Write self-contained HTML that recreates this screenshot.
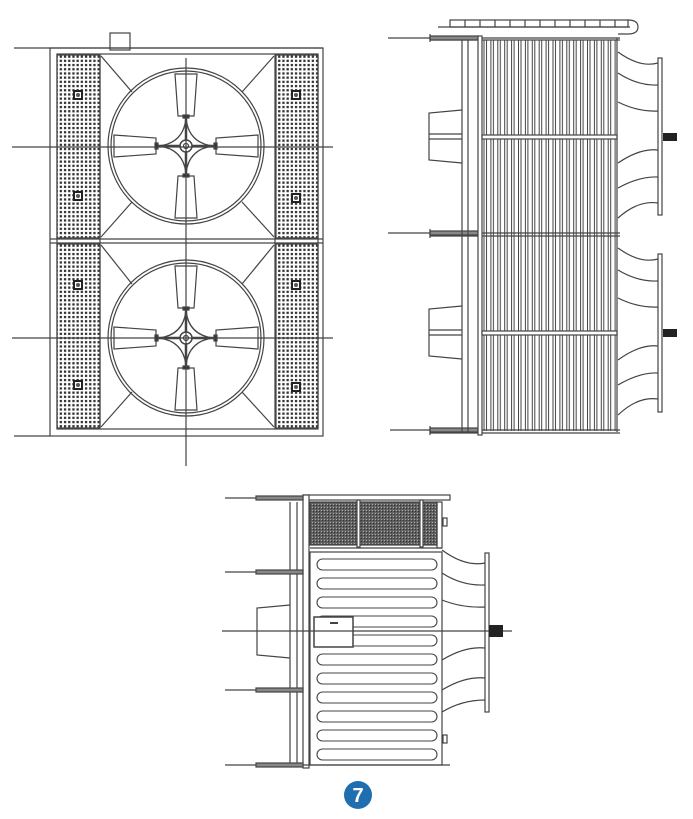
<!DOCTYPE html>
<html><head><meta charset="utf-8"><style>
html,body{margin:0;padding:0;background:#fff;}
svg{display:block}
</style></head><body>
<svg width="693" height="819" viewBox="0 0 693 819" xmlns="http://www.w3.org/2000/svg">
<defs>
<pattern id="dots" x="0" y="0" width="4.2" height="4.2" patternUnits="userSpaceOnUse">
<rect x="0.9" y="0.9" width="2.3" height="2.3" fill="#333"/>
</pattern>
<pattern id="mesh" x="0" y="0" width="3" height="3" patternUnits="userSpaceOnUse">
<rect width="3" height="3" fill="#666"/><rect x="0.8" y="0.8" width="1.4" height="1.4" fill="#333"/>
<rect x="0" y="0" width="1" height="1" fill="#aaa"/>
</pattern>
<pattern id="slats" x="483" y="0" width="6.9" height="10" patternUnits="userSpaceOnUse">
<line x1="1" y1="0" x2="1" y2="10" stroke="#444" stroke-width="1"/>
<line x1="3.5" y1="0" x2="3.5" y2="10" stroke="#444" stroke-width="1"/>
</pattern>
<g id="fan" fill="none" stroke="#444" stroke-width="1.2">
<circle r="78"/><circle r="75"/>
<g id="bl"><polygon points="-11,-72 11,-72 8,-30 -8,-30" fill="#fff"/><rect x="-3" y="-31" width="6" height="3" fill="#333"/></g>
<use href="#bl" transform="rotate(90)"/><use href="#bl" transform="rotate(180)"/><use href="#bl" transform="rotate(270)"/>
<path d="M0,-27 Q3,-3 27,0 Q3,3 0,27 Q-3,3 -27,0 Q-3,-3 0,-27Z" fill="#fff" stroke-width="1.3"/>
<line x1="-28" y1="0" x2="28" y2="0" stroke-width="2.5"/><line x1="0" y1="-28" x2="0" y2="28" stroke-width="2.5"/>
<circle r="6" fill="#fff" stroke-width="1.5"/><circle r="2.5"/>
</g>
<g id="sq"><rect x="-5" y="-5" width="10" height="10" fill="#222"/><rect x="-3" y="-3" width="6" height="6" fill="#fff"/><circle r="2" fill="#555"/></g>
</defs>

<g fill="none" stroke="#444" stroke-width="1.2">
<rect x="110" y="33" width="20" height="17" fill="#fff"/>
<line x1="14" y1="48" x2="323" y2="48"/>
<rect x="50" y="48" width="273" height="388"/>
<rect x="57" y="54" width="261" height="375"/>
<line x1="50" y1="239" x2="323" y2="239"/><line x1="50" y1="243" x2="323" y2="243"/>
<line x1="14" y1="436" x2="50" y2="436"/>
<rect x="57" y="55" width="43" height="183" fill="url(#dots)"/>
<rect x="57" y="244" width="43" height="184" fill="url(#dots)"/>
<rect x="276" y="55" width="42" height="183" fill="url(#dots)"/>
<rect x="276" y="244" width="42" height="184" fill="url(#dots)"/>
<line x1="100" y1="54" x2="100" y2="429"/><line x1="275" y1="54" x2="275" y2="429"/>
<line x1="101" y1="56" x2="132" y2="92"/><line x1="274" y1="56" x2="242" y2="92"/>
<line x1="101" y1="237" x2="132" y2="202"/><line x1="274" y1="237" x2="242" y2="202"/>
<line x1="101" y1="245" x2="132" y2="284"/><line x1="274" y1="245" x2="242" y2="284"/>
<line x1="101" y1="427" x2="132" y2="392"/><line x1="274" y1="427" x2="242" y2="392"/>
<use href="#fan" x="186" y="146"/>
<use href="#fan" x="186" y="338"/>
<line x1="186" y1="58" x2="186" y2="466"/>
<line x1="12" y1="147" x2="333" y2="147"/>
<line x1="12" y1="338" x2="333" y2="338"/>
</g>
<use href="#sq" x="78" y="95"/><use href="#sq" x="78" y="196"/><use href="#sq" x="296" y="95"/><use href="#sq" x="296" y="198"/>
<use href="#sq" x="78" y="285"/><use href="#sq" x="78" y="385"/><use href="#sq" x="296" y="285"/><use href="#sq" x="296" y="387"/>

<g fill="none" stroke="#444" stroke-width="1.2">
<line x1="438" y1="27" x2="630" y2="27"/>
<rect x="450" y="20" width="178" height="7"/>
<line x1="465" y1="20" x2="465" y2="27"/><line x1="480" y1="20" x2="480" y2="27"/><line x1="495" y1="20" x2="495" y2="27"/><line x1="510" y1="20" x2="510" y2="27"/><line x1="525" y1="20" x2="525" y2="27"/><line x1="540" y1="20" x2="540" y2="27"/><line x1="555" y1="20" x2="555" y2="27"/><line x1="570" y1="20" x2="570" y2="27"/><line x1="585" y1="20" x2="585" y2="27"/><line x1="600" y1="20" x2="600" y2="27"/><line x1="615" y1="20" x2="615" y2="27"/>
<path d="M628,20 Q638,20 638,27 Q638,34 628,34 L618,34"/>
<rect x="483" y="40" width="134" height="391" fill="url(#slats)" stroke="none"/>
<line x1="388" y1="38" x2="620" y2="38"/><line x1="430" y1="40" x2="620" y2="40"/>
<line x1="388" y1="233" x2="620" y2="233"/><line x1="430" y1="236" x2="620" y2="236"/>
<line x1="390" y1="430" x2="620" y2="430"/><line x1="430" y1="433" x2="620" y2="433"/>
<rect x="430" y="36" width="48" height="4" fill="#888"/><rect x="430" y="231" width="48" height="4" fill="#888"/><rect x="430" y="428" width="48" height="4" fill="#888"/>
<line x1="430" y1="34" x2="430" y2="42"/><line x1="430" y1="229" x2="430" y2="238"/><line x1="430" y1="426" x2="430" y2="435"/>
<rect x="478" y="36" width="4" height="399" fill="#fff"/>
<line x1="462" y1="40" x2="462" y2="432"/><line x1="468" y1="40" x2="468" y2="432"/>
<line x1="617" y1="38" x2="617" y2="432"/>
<rect x="482" y="135" width="135" height="4" fill="#fff"/><rect x="482" y="331" width="135" height="4" fill="#fff"/>
<path d="M462,110 L429,113 L429,160 L462,163"/><line x1="429" y1="134" x2="462" y2="134"/><line x1="429" y1="139" x2="462" y2="139"/>
<path d="M462,306 L429,309 L429,356 L462,359"/><line x1="429" y1="330" x2="462" y2="330"/><line x1="429" y1="335" x2="462" y2="335"/>
<rect x="658" y="58" width="4" height="157" fill="#fff"/>
<rect x="658" y="254" width="4" height="158" fill="#fff"/>
<path d="M618,52 Q640,68 658,63 M618,73 Q638,86 658,85 M618,102 Q638,112 658,111 M618,163 Q640,148 658,150 M618,188 Q640,176 658,177 M618,218 Q638,200 658,203"/>
<path d="M618,248 Q640,264 658,259 M618,270 Q638,282 658,281 M618,298 Q638,308 658,307 M618,360 Q640,344 658,346 M618,385 Q640,372 658,373 M618,415 Q638,396 658,399"/>
</g>
<rect x="663" y="133" width="14" height="8" fill="#222"/>
<rect x="663" y="329" width="14" height="8" fill="#222"/>

<g fill="none" stroke="#444" stroke-width="1.2">
<line x1="225" y1="498" x2="450" y2="498"/>
<rect x="303" y="495" width="147" height="5" fill="#fff"/>
<rect x="310" y="502" width="127" height="43" fill="url(#mesh)"/>
<rect x="357" y="500" width="3" height="47" fill="#fff"/><rect x="420" y="500" width="3" height="47" fill="#fff"/>
<rect x="437" y="502" width="5" height="46"/>
<rect x="443" y="518" width="4" height="8" fill="#fff"/>
<line x1="310" y1="548" x2="442" y2="548"/>
<rect x="310" y="552" width="132" height="213"/>
<rect x="443" y="735" width="4" height="8" fill="#fff"/>
<line x1="290" y1="502" x2="290" y2="766"/><line x1="297" y1="502" x2="297" y2="766"/>
<rect x="303" y="495" width="6" height="273" fill="#fff"/>
<line x1="225" y1="572" x2="303" y2="572"/><line x1="225" y1="690" x2="303" y2="690"/>
<line x1="225" y1="765" x2="450" y2="765"/>
<rect x="256" y="570" width="47" height="4" fill="#888"/><rect x="256" y="688" width="47" height="4" fill="#888"/><rect x="256" y="763" width="47" height="4" fill="#888"/><rect x="256" y="496" width="47" height="4" fill="#888"/>
<path d="M290,605 L257,608 L257,655 L290,658"/>
<g stroke-width="1.1">
<rect x="317" y="559" width="120" height="11" rx="5.5"/>
<rect x="317" y="578" width="120" height="11" rx="5.5"/>
<rect x="317" y="597" width="120" height="11" rx="5.5"/>
<rect x="317" y="616" width="120" height="11" rx="5.5"/>
<rect x="317" y="635" width="120" height="11" rx="5.5"/>
<rect x="317" y="654" width="120" height="11" rx="5.5"/>
<rect x="317" y="673" width="120" height="11" rx="5.5"/>
<rect x="317" y="692" width="120" height="11" rx="5.5"/>
<rect x="317" y="711" width="120" height="11" rx="5.5"/>
<rect x="317" y="730" width="120" height="11" rx="5.5"/>
<rect x="317" y="749" width="120" height="11" rx="5.5"/>
</g>
<rect x="314" y="617" width="39" height="30" fill="#fff" stroke-width="1.5"/>
<line x1="330" y1="623" x2="338" y2="623" stroke-width="2"/>
<rect x="485" y="553" width="4" height="159" fill="#fff"/>
<path d="M442,550 Q465,567 485,563 M442,573 Q462,586 485,585 M442,600 Q462,608 485,607 M442,660 Q465,646 485,648 M442,690 Q465,676 485,678 M442,712 Q462,700 485,700"/>
<line x1="222" y1="631" x2="512" y2="631"/>
</g>
<rect x="489" y="625" width="14" height="12" fill="#222"/>

<circle cx="358" cy="795" r="14" fill="#1f6fb0"/>
<text x="358" y="802" text-anchor="middle" font-family="Liberation Sans, sans-serif" font-weight="bold" font-size="20" fill="#fff">7</text>
</svg>
</body></html>
